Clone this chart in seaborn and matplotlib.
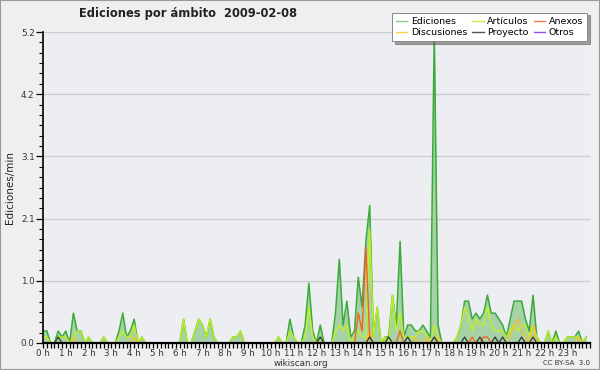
import numpy as np
import pandas as pd
import matplotlib
matplotlib.use('Agg')
import matplotlib.pyplot as plt
import seaborn as sns
from matplotlib.lines import Line2D
from matplotlib.patches import Rectangle
from matplotlib.ticker import MultipleLocator, FixedLocator, AutoMinorLocator

# ediciones/min cada 10 minutos (144 intervalos), una linea = 2 horas
ediciones = [
    0.2, 0.2, 0, 0, 0.2, 0.1, 0.2, 0, 0.5, 0.2, 0.2, 0,
    0.1, 0, 0, 0, 0.1, 0, 0, 0, 0.2, 0.5, 0.1, 0.2,
    0.4, 0, 0.1, 0, 0, 0, 0, 0, 0, 0, 0, 0,
    0, 0.4, 0, 0, 0.2, 0.4, 0.3, 0.1, 0.4, 0.1, 0, 0,
    0, 0, 0.1, 0.1, 0.2, 0, 0, 0, 0, 0, 0, 0,
    0, 0, 0.1, 0, 0, 0.4, 0.1, 0, 0, 0.3, 1.0, 0.2,
    0, 0.3, 0, 0, 0, 0.5, 1.4, 0.3, 0.7, 0.1, 0.2, 1.1,
    0.6, 1.7, 2.3, 0.1, 0.6, 0, 0.1, 0.1, 0.8, 0.3, 1.7, 0.1,
    0.3, 0.3, 0.2, 0.2, 0.3, 0.2, 0.1, 5.2, 0.3, 0, 0, 0,
    0, 0.1, 0.3, 0.7, 0.7, 0.4, 0.5, 0.4, 0.5, 0.8, 0.5, 0.5,
    0.4, 0.3, 0.1, 0.4, 0.7, 0.7, 0.7, 0.4, 0.2, 0.8, 0.1, 0,
    0, 0.2, 0, 0.2, 0, 0, 0.1, 0.1, 0.1, 0.2, 0, 0.1,
]
articulos = [
    0.1, 0.1, 0, 0, 0.1, 0.1, 0.1, 0, 0.1, 0.2, 0.2, 0,
    0.1, 0, 0, 0, 0.1, 0, 0, 0, 0.1, 0.2, 0.1, 0.1,
    0.3, 0, 0.1, 0, 0, 0, 0, 0, 0, 0, 0, 0,
    0, 0.4, 0, 0, 0.2, 0.4, 0.3, 0.1, 0.4, 0.1, 0, 0,
    0, 0, 0.1, 0.1, 0.2, 0, 0, 0, 0, 0, 0, 0,
    0, 0, 0.1, 0, 0, 0.2, 0.1, 0, 0, 0.1, 0.6, 0.1,
    0, 0.1, 0, 0, 0, 0.2, 0.3, 0.2, 0.3, 0, 0.1, 0.2,
    0.1, 0.1, 1.9, 0.1, 0.6, 0, 0.1, 0, 0.8, 0.2, 0.5, 0.1,
    0.1, 0.1, 0.1, 0.2, 0.2, 0.1, 0, 0.3, 0.1, 0, 0, 0,
    0, 0.1, 0.3, 0.6, 0.4, 0.2, 0.4, 0.3, 0.3, 0.6, 0.3, 0.2,
    0.2, 0.2, 0.1, 0.2, 0.3, 0.2, 0.3, 0.3, 0.1, 0.3, 0.1, 0,
    0, 0.2, 0, 0.1, 0, 0, 0.1, 0.1, 0.1, 0.1, 0, 0.1,
]
discusiones = [
    0, 0, 0, 0, 0, 0, 0, 0, 0.1, 0, 0, 0,
    0, 0, 0, 0, 0, 0, 0, 0, 0, 0, 0, 0,
    0.1, 0, 0, 0, 0, 0, 0, 0, 0, 0, 0, 0,
    0, 0, 0, 0, 0, 0, 0, 0, 0, 0, 0, 0,
    0, 0, 0, 0, 0, 0, 0, 0, 0, 0, 0, 0,
    0, 0, 0, 0, 0, 0, 0, 0, 0, 0, 0, 0,
    0, 0, 0, 0, 0, 0, 0, 0, 0, 0, 0, 0,
    0, 0, 0.2, 0, 0, 0, 0, 0, 0, 0, 0, 0,
    0, 0, 0.1, 0, 0, 0.1, 0, 0, 0.1, 0, 0, 0,
    0, 0, 0, 0, 0, 0, 0, 0, 0, 0, 0, 0,
    0, 0, 0, 0.1, 0.3, 0.4, 0.2, 0.1, 0, 0.3, 0, 0,
    0, 0, 0, 0, 0, 0, 0, 0, 0, 0.1, 0, 0,
]
anexos = [
    0, 0, 0, 0, 0, 0, 0, 0, 0, 0, 0, 0,
    0, 0, 0, 0, 0, 0, 0, 0, 0, 0, 0, 0,
    0, 0, 0, 0, 0, 0, 0, 0, 0, 0, 0, 0,
    0, 0, 0, 0, 0, 0, 0, 0, 0, 0, 0, 0,
    0, 0, 0, 0, 0, 0, 0, 0, 0, 0, 0, 0,
    0, 0, 0, 0, 0, 0, 0, 0, 0, 0, 0, 0,
    0, 0, 0, 0, 0, 0, 0, 0, 0, 0, 0, 0.5,
    0.2, 1.6, 0.1, 0, 0, 0, 0, 0, 0, 0, 0.2, 0,
    0, 0, 0, 0, 0, 0, 0, 0, 0, 0, 0, 0,
    0, 0, 0, 0, 0, 0.1, 0, 0, 0.1, 0.1, 0, 0,
    0, 0, 0, 0, 0, 0, 0, 0, 0, 0, 0, 0,
    0, 0, 0, 0, 0, 0, 0, 0, 0, 0, 0, 0,
]
proyecto = [
    0, 0, 0, 0, 0.1, 0, 0, 0, 0, 0, 0, 0,
    0, 0, 0, 0, 0, 0, 0, 0, 0, 0, 0, 0,
    0, 0, 0, 0, 0, 0, 0, 0, 0, 0, 0, 0,
    0, 0, 0, 0, 0, 0, 0, 0, 0, 0, 0, 0,
    0, 0, 0, 0, 0, 0, 0, 0, 0, 0, 0, 0,
    0, 0, 0, 0, 0, 0, 0, 0, 0, 0, 0, 0,
    0, 0.1, 0, 0, 0, 0, 0, 0, 0, 0, 0, 0,
    0, 0, 0.1, 0, 0, 0, 0, 0.1, 0, 0, 0, 0,
    0.1, 0, 0, 0, 0, 0, 0, 0.1, 0, 0, 0, 0,
    0, 0, 0, 0.1, 0, 0, 0, 0.1, 0, 0, 0, 0.1,
    0, 0.1, 0, 0, 0, 0, 0.1, 0, 0, 0.1, 0, 0,
    0, 0, 0, 0, 0, 0, 0, 0, 0, 0, 0, 0,
]

etiquetas_y = ['0.0', '1.0', '2.1', '3.1', '4.2', '5.2']
etiquetas_x = [f'{h} h' for h in range(24)]

hora = np.arange(len(ediciones)) / 6
dados = pd.DataFrame({'hora': hora, 'Ediciones': ediciones, 'Artículos': articulos,
                      'Discusiones': discusiones, 'Anexos': anexos, 'Proyecto': proyecto})

fig = plt.figure(figsize=(6, 3.7), dpi=100, facecolor='#efefef')
ax = fig.add_axes([43 / 600, 1 - 343 / 370, 547 / 600, 311 / 370])
ax.set_facecolor('#eceef1')

ax.fill_between(dados['hora'], dados['Ediciones'], color='#9fcf9f', alpha=0.9, lw=0, zorder=1)
sns.lineplot(x='hora', y='Ediciones', data=dados, ax=ax, color='#3aaa3a', lw=1.1, zorder=2)
sns.lineplot(x='hora', y='Artículos', data=dados, ax=ax, color='#c4f020', lw=1.0, zorder=2)
sns.lineplot(x='hora', y='Discusiones', data=dados, ax=ax, color='#ffc020', lw=0.9, zorder=2)
sns.lineplot(x='hora', y='Anexos', data=dados, ax=ax, color='#ff5a10', lw=0.9, zorder=2)
sns.lineplot(x='hora', y='Proyecto', data=dados, ax=ax, color='#333333', lw=0.9, zorder=2)

ax.set_xlim(0, 24)
ax.set_ylim(0, 5.2)
ax.set_xlabel('')
ax.set_ylabel('')

y_ticks = np.linspace(0, 5.2, 6)
ax.yaxis.set_major_locator(FixedLocator(y_ticks))
ax.set_yticklabels(etiquetas_y)
ax.yaxis.set_minor_locator(AutoMinorLocator(6))
ax.grid(axis='y', which='major', color='#cccccc', lw=0.9, zorder=0)
ax.set_axisbelow(True)

ax.xaxis.set_major_locator(FixedLocator(range(24)))
ax.set_xticklabels(etiquetas_x)
ax.xaxis.set_minor_locator(MultipleLocator(1 / 6))

ax.tick_params(axis='x', which='both', direction='out', length=3.5, width=0.9, labelsize=6.3, pad=0.5, colors='black')
ax.tick_params(axis='y', which='major', direction='out', length=5, width=0.9, labelsize=6.3, pad=1)
ax.tick_params(axis='y', which='minor', direction='out', length=3, width=0.8)
ax.tick_params(axis='both', labelcolor='#333333')

for lado in ['top', 'right']:
    ax.spines[lado].set_visible(False)
ax.spines['left'].set_linewidth(1.2)
ax.spines['bottom'].set_linewidth(1.6)
ax.spines['left'].set_color('black')
ax.spines['bottom'].set_color('black')

fig.text(188 / 600, 1 - 14 / 370, 'Ediciones por ámbito  2009-02-08', ha='center', va='center',
         fontsize=8.3, fontweight='bold', color='#222222')
fig.text(10 / 600, 1 - 188 / 370, 'Ediciones/min', rotation=90, ha='center', va='center',
         fontsize=7.5, color='#222222')
fig.text(301 / 600, 1 - 363 / 370, 'wikiscan.org', ha='center', va='center', fontsize=6.3, color='#333333')
fig.text(590 / 600, 1 - 363 / 370, 'CC BY-SA  3.0', ha='right', va='center', fontsize=5, color='#333333')

nomes = ['Ediciones', 'Discusiones', 'Artículos', 'Proyecto', 'Anexos', 'Otros']
cores = ['#88cc88', '#ffd040', '#c8ee50', '#555555', '#f08040', '#9050f0']
handles = [Line2D([], [], color=c, lw=1.0) for c in cores]
leg = fig.legend(handles, nomes, loc='upper right', bbox_to_anchor=(592 / 600, 1 - 8 / 370), ncol=3,
                 fontsize=6.8, handlelength=1.2, handletextpad=0.4, columnspacing=0.5, labelspacing=0.2,
                 borderpad=0.45, frameon=True, fancybox=False, shadow=True, edgecolor='#888888')
leg.get_frame().set_facecolor('white')
leg.get_frame().set_linewidth(0.7)

fig.patches.append(Rectangle((0, 0), 1, 1, transform=fig.transFigure, fill=False,
                             edgecolor='#999999', lw=1.5))

fig.savefig('out.png', dpi=100, facecolor=fig.get_facecolor())
